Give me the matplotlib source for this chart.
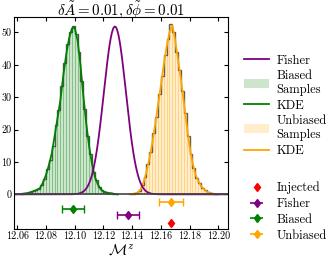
import numpy as np
import matplotlib
matplotlib.use("Agg")
import matplotlib.pyplot as plt
from matplotlib.lines import Line2D
from matplotlib.patches import Patch

plt.rcParams['font.family'] = ['cmr10', 'DejaVu Serif']
plt.rcParams['mathtext.fontset'] = 'cm'
plt.rcParams['axes.formatter.use_mathtext'] = True

# ---- data ----
bias_edges_start, bias_bin_w = 12.062, 0.002
bias_hist = [0.1, 0.3, 0.4, 0.6, 1.0, 1.2, 1.8, 3.0, 4.6, 7.8, 10.5, 15.0, 21.5, 26.0,
             33.5, 40.5, 46.5, 50.0, 52.0, 49.5, 44.0, 35.0, 26.5, 18.0, 12.5, 7.0,
             4.4, 2.3, 1.2, 0.7, 0.5, 0.3, 0.2, 0.1]
bias_kde = [0.1, 0.2, 0.3, 0.5, 0.8, 1.1, 1.5, 2.0, 3.8, 6.0, 9.0, 12.6, 18.0, 23.5,
            29.0, 36.5, 43.0, 48.0, 51.2, 51.5, 47.5, 40.0, 30.5, 22.0, 15.0, 9.5,
            5.5, 3.2, 1.6, 0.9, 0.6, 0.4, 0.3, 0.1, 0.0]

unb_edges_start, unb_bin_w = 12.138, 0.002
unb_hist = [0.1, 0.2, 0.4, 1.1, 2.8, 5.5, 9.3, 13.0, 18.8, 24.0, 31.0, 36.5, 43.0,
            48.0, 52.5, 50.0, 44.0, 38.5, 32.0, 25.0, 18.0, 12.5, 8.0, 5.2, 3.4,
            2.1, 1.2, 0.6, 0.3, 0.15, 0.05]
unb_kde = [0.05, 0.1, 0.3, 0.6, 1.6, 3.8, 7.0, 11.0, 15.8, 21.5, 27.5, 33.5, 40.0,
           45.5, 50.0, 52.2, 47.5, 41.5, 35.5, 28.5, 21.5, 14.8, 10.0, 6.3, 4.2,
           2.6, 1.6, 0.8, 0.4, 0.2, 0.1, 0.0]

fisher_mean, fisher_sigma = 12.128, 0.0077

point_labels = ['Injected', 'Fisher', 'Biased', 'Unbiased']
point_x = [12.167, 12.1374, 12.0986, 12.1671]
point_xerr = [0.0, 0.0077, 0.0078, 0.0081]
point_y = [-8.7, -6.3, -4.4, -2.3]
point_colors = ['red', 'purple', 'green', 'orange']

xticks = [12.06, 12.08, 12.10, 12.12, 12.14, 12.16, 12.18, 12.20]
yticks = [0, 10, 20, 30, 40, 50]

# ---- figure ----
fig = plt.figure(figsize=(3.32, 2.57), dpi=100)
ax = fig.add_axes([0.043, 0.109, 0.643, 0.824])

def draw_hist(start, w, heights, kde, color):
    n = len(heights)
    edges = start + w * np.arange(n + 1)
    centers = 0.5 * (edges[:-1] + edges[1:])
    ax.hist(centers, bins=edges, weights=heights, histtype='bar', color=color,
            alpha=0.2, edgecolor=color, linewidth=0.7)
    ax.hist(centers, bins=edges, weights=heights, histtype='step', color='k',
            alpha=0.6, linewidth=1.0)
    kx = start + w * np.arange(len(kde))
    ax.plot(kx, kde, color=color, lw=1.3)

draw_hist(bias_edges_start, bias_bin_w, bias_hist, bias_kde, 'green')
draw_hist(unb_edges_start, unb_bin_w, unb_hist, unb_kde, 'orange')

fx = np.linspace(12.058, 12.207, 400)
fy = np.exp(-0.5 * ((fx - fisher_mean) / fisher_sigma) ** 2) / (fisher_sigma * np.sqrt(2 * np.pi))
ax.plot(fx, fy, color='purple', lw=1.3)

ax.axhline(0, color='#444444', lw=1.2)

for lab, x, xe, y, c in zip(point_labels, point_x, point_xerr, point_y, point_colors):
    if xe > 0:
        ax.errorbar([x], [y], xerr=[xe], fmt='d', color=c, ms=4.5, capsize=3, lw=1.2)
    else:
        ax.plot([x], [y], 'd', color=c, ms=4.5)

ax.set_xlim(12.0579, 12.2066)
ax.set_ylim(-10.7, 54.7)
ax.set_xticks(xticks)
ax.set_xticklabels([f'{t:.2f}' for t in xticks])
ax.set_yticks(yticks)
ax.set_yticklabels([str(t) for t in yticks])
ax.tick_params(direction='in', top=True, right=True, labelsize=7.3, length=3, pad=2)
ax.set_xlabel(r'$\mathcal{M}^z$', fontsize=11, labelpad=1)
ax.set_title(r'$\delta\tilde{A}=0.01, \delta\tilde{\phi}=0.01$', fontsize=10.8, pad=2)

h1 = [Line2D([], [], color='purple', lw=1.3),
      Patch(facecolor='green', alpha=0.2),
      Line2D([], [], color='green', lw=1.3),
      Patch(facecolor='orange', alpha=0.2),
      Line2D([], [], color='orange', lw=1.3)]
l1 = ['Fisher', 'Biased\nSamples', 'KDE', 'Unbiased\nSamples', 'KDE']
fig.legend(h1, l1, loc='upper left', bbox_to_anchor=(0.735, 0.788),
           frameon=False, fontsize=9, handlelength=2.0, handletextpad=0.6,
           labelspacing=0.28, borderaxespad=0, borderpad=0)

h2 = [Line2D([], [], marker='d', color='red', ls='none', ms=4.5)]
for x, xe, c in zip(point_x[1:], point_xerr[1:], point_colors[1:]):
    h2.append(ax.errorbar([], [], xerr=[], fmt='d', color=c, ms=4.5, capsize=3, lw=1.2))
fig.legend(h2, point_labels, loc='upper left', bbox_to_anchor=(0.735, 0.294),
           frameon=False, fontsize=9, handlelength=2.0, handletextpad=0.6,
           labelspacing=0.3, borderaxespad=0, borderpad=0)

fig.savefig('out.png', dpi=100)
